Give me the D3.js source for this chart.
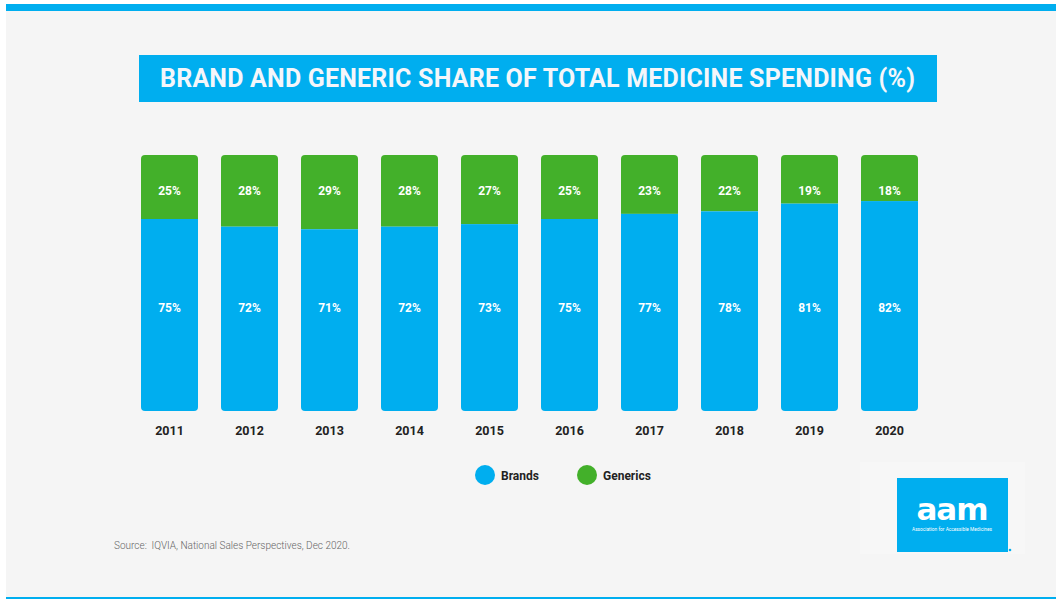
<!DOCTYPE html>
<html>
<head>
<meta charset="utf-8">
<script src="https://cdn.jsdelivr.net/npm/d3@7"></script>
<style>
  body { margin: 0; background: #fff; }
  svg { display: block; }
</style>
</head>
<body>
<script>
var years = ["2011", "2012", "2013", "2014", "2015", "2016", "2017", "2018", "2019", "2020"];
var brands = [75, 72, 71, 72, 73, 75, 77, 78, 81, 82];
var generics = [25, 28, 29, 28, 27, 25, 23, 22, 19, 18];
var seriesNames = ["Brands", "Generics"];
var titleText = "BRAND AND GENERIC SHARE OF TOTAL MEDICINE SPENDING (%)";
var sourceText = "Source:  IQVIA, National Sales Perspectives, Dec 2020.";

var W = 1056, H = 599;
var blue = "#00aeef", green = "#43b02a";

var svg = d3.select("body").append("svg")
    .attr("width", W).attr("height", H);

// panel + frame lines
svg.append("rect").attr("x", 6).attr("y", 4).attr("width", W - 6).attr("height", H - 4).attr("fill", "#f5f5f5");
svg.append("rect").attr("x", 6).attr("y", 4).attr("width", W - 6).attr("height", 7).attr("fill", blue);
svg.append("rect").attr("x", 6).attr("y", 597).attr("width", W - 6).attr("height", 2).attr("fill", blue);

// title banner
svg.append("rect").attr("x", 139).attr("y", 55).attr("width", 798).attr("height", 47).attr("fill", blue);
svg.append("text")
    .attr("x", 160).attr("y", 87)
    .attr("textLength", 755).attr("lengthAdjust", "spacing")
    .style("font-family", "Roboto, sans-serif").style("font-weight", 700)
    .style("font-size", "25px").attr("fill", "#f4f6fa")
    .text(titleText);

// scales
var x = d3.scaleBand().domain(years).range([131, 928]).paddingInner(0.2875).paddingOuter(0.125);
var y = d3.scaleLinear().domain([0, 100]).range([411, 155]);

var data = years.map(function(yr, i) { return { year: yr, brands: brands[i], generics: generics[i] }; });

var defs = svg.append("defs");
var g = svg.selectAll(".bar").data(data).enter().append("g").attr("class", "bar");

g.each(function(d, i) {
  var sel = d3.select(this);
  var id = "clip" + i;
  defs.append("clipPath").attr("id", id)
    .append("rect")
      .attr("x", x(d.year)).attr("y", y(100))
      .attr("width", x.bandwidth()).attr("height", y(0) - y(100))
      .attr("rx", 4).attr("ry", 4);
  var cg = sel.append("g").attr("clip-path", "url(#" + id + ")");
  cg.append("rect")
      .attr("x", x(d.year)).attr("y", y(100))
      .attr("width", x.bandwidth()).attr("height", y(d.brands) - y(100))
      .attr("fill", green);
  cg.append("rect")
      .attr("x", x(d.year)).attr("y", y(d.brands))
      .attr("width", x.bandwidth()).attr("height", y(0) - y(d.brands))
      .attr("fill", blue);
});

var lblStyle = function(s) {
  s.attr("text-anchor", "middle").style("font-family", "Roboto, sans-serif")
   .style("font-weight", 700).style("font-size", "12px").attr("fill", "#fff");
};

g.append("text").call(lblStyle)
  .attr("x", function(d) { return x(d.year) + x.bandwidth() / 2; })
  .attr("y", y(87.5) + 8)
  .text(function(d) { return d.generics + "%"; });

g.append("text").call(lblStyle)
  .attr("x", function(d) { return x(d.year) + x.bandwidth() / 2; })
  .attr("y", y(41.8) + 8)
  .text(function(d) { return d.brands + "%"; });

// year axis
var xAxis = svg.append("g").attr("transform", "translate(0," + y(0) + ")")
    .call(d3.axisBottom(x).tickSize(0).tickPadding(15));
xAxis.select(".domain").remove();
xAxis.selectAll("text")
    .style("font-family", "Roboto, sans-serif").style("font-weight", 700)
    .style("font-size", "12.5px").attr("fill", "#222");

// legend
var legendX = [485, 587];
var lg = svg.selectAll(".legend").data(seriesNames).enter().append("g")
    .attr("transform", function(d, i) { return "translate(" + legendX[i] + ",475)"; });
lg.append("circle").attr("r", 10).attr("fill", function(d, i) { return i === 0 ? blue : green; });
lg.append("text").attr("x", 16).attr("y", 4.5)
    .style("font-family", "Roboto, sans-serif").style("font-weight", 700)
    .style("font-size", "12px").attr("fill", "#222")
    .text(function(d) { return d; });

// source
svg.append("text").attr("x", 114).attr("y", 549)
    .style("font-family", "Roboto, sans-serif").style("font-weight", 300)
    .style("font-size", "10px").style("white-space", "pre").attr("fill", "#666")
    .text(sourceText);

// logo
svg.append("rect").attr("x", 860).attr("y", 462).attr("width", 165).attr("height", 92).attr("fill", "#f7f7f7");
svg.append("rect").attr("x", 897).attr("y", 478).attr("width", 111).attr("height", 74).attr("fill", blue);
svg.append("text").attr("x", 952).attr("y", 520).attr("text-anchor", "middle")
    .style("font-family", "'DejaVu Sans', sans-serif").style("font-weight", 900)
    .style("font-size", "31px").style("letter-spacing", "-1px").attr("fill", "#fff")
    .text("aam");
svg.append("text").attr("x", 952).attr("y", 531).attr("text-anchor", "middle")
    .attr("textLength", 80).attr("lengthAdjust", "spacingAndGlyphs")
    .style("font-family", "Roboto, sans-serif").style("font-size", "5px").attr("fill", "#fff")
    .text("Association for Accessible Medicines");
svg.append("circle").attr("cx", 1010).attr("cy", 550).attr("r", 1.3).attr("fill", blue);
</script>
</body>
</html>
